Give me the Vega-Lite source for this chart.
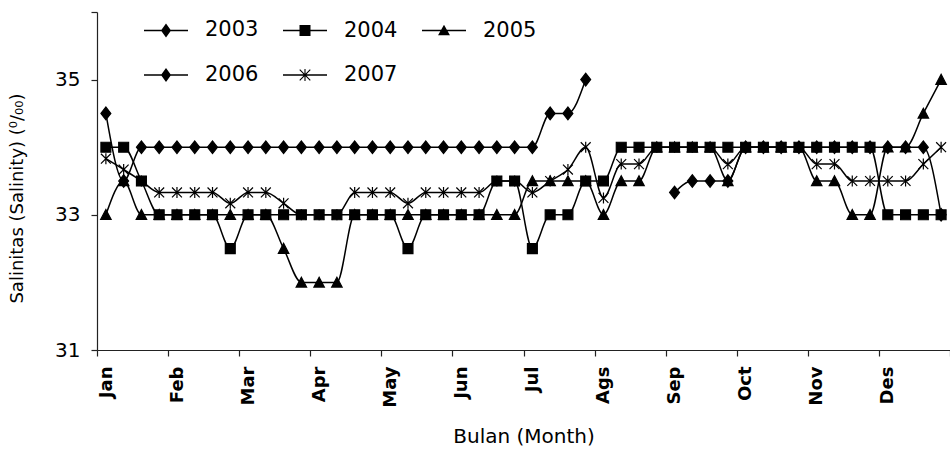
{
  "$schema": "https://vega.github.io/schema/vega-lite/v6.json",
  "width": 853,
  "height": 338,
  "autosize": {"type": "none"},
  "padding": {"left": 97, "top": 12, "right": 0, "bottom": 99},
  "background": "white",
  "config": {
    "view": {"stroke": null},
    "font": "DejaVu Sans",
    "axis": {"grid": false, "domainColor": "#222", "tickColor": "#222", "labelColor": "black", "titleColor": "black", "domainWidth": 1.2, "tickWidth": 1.2}
  },
  "datasets": {
    "sal": [
      {"w": 0, "year": "2003", "v": 34.5}, {"w": 1, "year": "2003", "v": 33.5}, {"w": 2, "year": "2003", "v": 34}, {"w": 3, "year": "2003", "v": 34}, {"w": 4, "year": "2003", "v": 34}, {"w": 5, "year": "2003", "v": 34}, {"w": 6, "year": "2003", "v": 34}, {"w": 7, "year": "2003", "v": 34}, {"w": 8, "year": "2003", "v": 34}, {"w": 9, "year": "2003", "v": 34}, {"w": 10, "year": "2003", "v": 34}, {"w": 11, "year": "2003", "v": 34}, {"w": 12, "year": "2003", "v": 34}, {"w": 13, "year": "2003", "v": 34}, {"w": 14, "year": "2003", "v": 34}, {"w": 15, "year": "2003", "v": 34}, {"w": 16, "year": "2003", "v": 34}, {"w": 17, "year": "2003", "v": 34}, {"w": 18, "year": "2003", "v": 34}, {"w": 19, "year": "2003", "v": 34}, {"w": 20, "year": "2003", "v": 34}, {"w": 21, "year": "2003", "v": 34}, {"w": 22, "year": "2003", "v": 34}, {"w": 23, "year": "2003", "v": 34}, {"w": 24, "year": "2003", "v": 34}, {"w": 25, "year": "2003", "v": 34.5}, {"w": 26, "year": "2003", "v": 34.5}, {"w": 27, "year": "2003", "v": 35},

      {"w": 0, "year": "2004", "v": 34}, {"w": 1, "year": "2004", "v": 34}, {"w": 2, "year": "2004", "v": 33.5}, {"w": 3, "year": "2004", "v": 33}, {"w": 4, "year": "2004", "v": 33}, {"w": 5, "year": "2004", "v": 33}, {"w": 6, "year": "2004", "v": 33}, {"w": 7, "year": "2004", "v": 32.5}, {"w": 8, "year": "2004", "v": 33}, {"w": 9, "year": "2004", "v": 33}, {"w": 10, "year": "2004", "v": 33}, {"w": 11, "year": "2004", "v": 33}, {"w": 12, "year": "2004", "v": 33}, {"w": 13, "year": "2004", "v": 33}, {"w": 14, "year": "2004", "v": 33}, {"w": 15, "year": "2004", "v": 33}, {"w": 16, "year": "2004", "v": 33}, {"w": 17, "year": "2004", "v": 32.5}, {"w": 18, "year": "2004", "v": 33}, {"w": 19, "year": "2004", "v": 33}, {"w": 20, "year": "2004", "v": 33}, {"w": 21, "year": "2004", "v": 33}, {"w": 22, "year": "2004", "v": 33.5}, {"w": 23, "year": "2004", "v": 33.5}, {"w": 24, "year": "2004", "v": 32.5}, {"w": 25, "year": "2004", "v": 33}, {"w": 26, "year": "2004", "v": 33}, {"w": 27, "year": "2004", "v": 33.5}, {"w": 28, "year": "2004", "v": 33.5}, {"w": 29, "year": "2004", "v": 34}, {"w": 30, "year": "2004", "v": 34}, {"w": 31, "year": "2004", "v": 34}, {"w": 32, "year": "2004", "v": 34}, {"w": 33, "year": "2004", "v": 34}, {"w": 34, "year": "2004", "v": 34}, {"w": 35, "year": "2004", "v": 34}, {"w": 36, "year": "2004", "v": 34}, {"w": 37, "year": "2004", "v": 34}, {"w": 38, "year": "2004", "v": 34}, {"w": 39, "year": "2004", "v": 34}, {"w": 40, "year": "2004", "v": 34}, {"w": 41, "year": "2004", "v": 34}, {"w": 42, "year": "2004", "v": 34}, {"w": 43, "year": "2004", "v": 34}, {"w": 44, "year": "2004", "v": 33}, {"w": 45, "year": "2004", "v": 33}, {"w": 46, "year": "2004", "v": 33}, {"w": 47, "year": "2004", "v": 33},

      {"w": 0, "year": "2005", "v": 33}, {"w": 1, "year": "2005", "v": 33.5}, {"w": 2, "year": "2005", "v": 33}, {"w": 3, "year": "2005", "v": 33}, {"w": 4, "year": "2005", "v": 33}, {"w": 5, "year": "2005", "v": 33}, {"w": 6, "year": "2005", "v": 33}, {"w": 7, "year": "2005", "v": 33}, {"w": 8, "year": "2005", "v": 33}, {"w": 9, "year": "2005", "v": 33}, {"w": 10, "year": "2005", "v": 32.5}, {"w": 11, "year": "2005", "v": 32}, {"w": 12, "year": "2005", "v": 32}, {"w": 13, "year": "2005", "v": 32}, {"w": 14, "year": "2005", "v": 33}, {"w": 15, "year": "2005", "v": 33}, {"w": 16, "year": "2005", "v": 33}, {"w": 17, "year": "2005", "v": 33}, {"w": 18, "year": "2005", "v": 33}, {"w": 19, "year": "2005", "v": 33}, {"w": 20, "year": "2005", "v": 33}, {"w": 21, "year": "2005", "v": 33}, {"w": 22, "year": "2005", "v": 33}, {"w": 23, "year": "2005", "v": 33}, {"w": 24, "year": "2005", "v": 33.5}, {"w": 25, "year": "2005", "v": 33.5}, {"w": 26, "year": "2005", "v": 33.5}, {"w": 27, "year": "2005", "v": 33.5}, {"w": 28, "year": "2005", "v": 33}, {"w": 29, "year": "2005", "v": 33.5}, {"w": 30, "year": "2005", "v": 33.5}, {"w": 31, "year": "2005", "v": 34}, {"w": 32, "year": "2005", "v": 34}, {"w": 33, "year": "2005", "v": 34}, {"w": 34, "year": "2005", "v": 34}, {"w": 35, "year": "2005", "v": 33.5}, {"w": 36, "year": "2005", "v": 34}, {"w": 37, "year": "2005", "v": 34}, {"w": 38, "year": "2005", "v": 34}, {"w": 39, "year": "2005", "v": 34}, {"w": 40, "year": "2005", "v": 33.5}, {"w": 41, "year": "2005", "v": 33.5}, {"w": 42, "year": "2005", "v": 33}, {"w": 43, "year": "2005", "v": 33}, {"w": 44, "year": "2005", "v": 34}, {"w": 45, "year": "2005", "v": 34}, {"w": 46, "year": "2005", "v": 34.5}, {"w": 47, "year": "2005", "v": 35},

      {"w": 32, "year": "2006", "v": 33.33}, {"w": 33, "year": "2006", "v": 33.5}, {"w": 34, "year": "2006", "v": 33.5}, {"w": 35, "year": "2006", "v": 33.5}, {"w": 36, "year": "2006", "v": 34}, {"w": 37, "year": "2006", "v": 34}, {"w": 38, "year": "2006", "v": 34}, {"w": 39, "year": "2006", "v": 34}, {"w": 40, "year": "2006", "v": 34}, {"w": 41, "year": "2006", "v": 34}, {"w": 42, "year": "2006", "v": 34}, {"w": 43, "year": "2006", "v": 34}, {"w": 44, "year": "2006", "v": 34}, {"w": 45, "year": "2006", "v": 34}, {"w": 46, "year": "2006", "v": 34}, {"w": 47, "year": "2006", "v": 33},

      {"w": 0, "year": "2007", "v": 33.83}, {"w": 1, "year": "2007", "v": 33.67}, {"w": 2, "year": "2007", "v": 33.5}, {"w": 3, "year": "2007", "v": 33.33}, {"w": 4, "year": "2007", "v": 33.33}, {"w": 5, "year": "2007", "v": 33.33}, {"w": 6, "year": "2007", "v": 33.33}, {"w": 7, "year": "2007", "v": 33.17}, {"w": 8, "year": "2007", "v": 33.33}, {"w": 9, "year": "2007", "v": 33.33}, {"w": 10, "year": "2007", "v": 33.17}, {"w": 11, "year": "2007", "v": 33}, {"w": 12, "year": "2007", "v": 33}, {"w": 13, "year": "2007", "v": 33}, {"w": 14, "year": "2007", "v": 33.33}, {"w": 15, "year": "2007", "v": 33.33}, {"w": 16, "year": "2007", "v": 33.33}, {"w": 17, "year": "2007", "v": 33.17}, {"w": 18, "year": "2007", "v": 33.33}, {"w": 19, "year": "2007", "v": 33.33}, {"w": 20, "year": "2007", "v": 33.33}, {"w": 21, "year": "2007", "v": 33.33}, {"w": 22, "year": "2007", "v": 33.5}, {"w": 23, "year": "2007", "v": 33.5}, {"w": 24, "year": "2007", "v": 33.33}, {"w": 25, "year": "2007", "v": 33.5}, {"w": 26, "year": "2007", "v": 33.67}, {"w": 27, "year": "2007", "v": 34}, {"w": 28, "year": "2007", "v": 33.25}, {"w": 29, "year": "2007", "v": 33.75}, {"w": 30, "year": "2007", "v": 33.75}, {"w": 31, "year": "2007", "v": 34}, {"w": 32, "year": "2007", "v": 34}, {"w": 33, "year": "2007", "v": 34}, {"w": 34, "year": "2007", "v": 34}, {"w": 35, "year": "2007", "v": 33.75}, {"w": 36, "year": "2007", "v": 34}, {"w": 37, "year": "2007", "v": 34}, {"w": 38, "year": "2007", "v": 34}, {"w": 39, "year": "2007", "v": 34}, {"w": 40, "year": "2007", "v": 33.75}, {"w": 41, "year": "2007", "v": 33.75}, {"w": 42, "year": "2007", "v": 33.5}, {"w": 43, "year": "2007", "v": 33.5}, {"w": 44, "year": "2007", "v": 33.5}, {"w": 45, "year": "2007", "v": 33.5}, {"w": 46, "year": "2007", "v": 33.75}, {"w": 47, "year": "2007", "v": 34}
    ]
  },
  "data": {"name": "sal"},
  "resolve": {"scale": {"shape": "independent"}, "legend": {"shape": "independent"}},
  "layer": [
    {
      "mark": {"type": "line", "interpolate": "monotone", "strokeWidth": 1.5, "color": "black"},
      "encoding": {
        "x": {
          "field": "w", "type": "quantitative",
          "scale": {"domain": [-0.5, 47.5], "nice": false, "zero": false},
          "axis": {
            "values": [-0.5, 0.5, 1.5, 2.5, 3.5, 4.5, 5.5, 6.5, 7.5, 8.5, 9.5, 10.5, 11.5, 12.5, 13.5, 14.5, 15.5, 16.5, 17.5, 18.5, 19.5, 20.5, 21.5, 22.5, 23.5, 24.5, 25.5, 26.5, 27.5, 28.5, 29.5, 30.5, 31.5, 32.5, 33.5, 34.5, 35.5, 36.5, 37.5, 38.5, 39.5, 40.5, 41.5, 42.5, 43.5, 44.5, 45.5, 46.5, 47.5],
            "labelExpr": "((datum.value + 0.5) % 4 == 0 && datum.value < 47) ? split('Jan,Feb,Mar,Apr,May,Jun,Jul,Ags,Sep,Oct,Nov,Des', ',')[(datum.value + 0.5) / 4] : ''",
            "labelAngle": 270,
            "labelOffset": 9,
            "labelOverlap": false,
            "labelBound": false,
            "labelFlush": false,
            "labelFontSize": 18,
            "labelFontWeight": "bold",
            "labelPadding": 10,
            "tickSize": 6,
            "title": "Bulan (Month)",
            "titleFontSize": 20,
            "titleFontWeight": "normal",
            "titlePadding": 19
          }
        },
        "y": {
          "field": "v", "type": "quantitative",
          "scale": {"domain": [31, 36], "nice": false, "zero": false},
          "axis": {
            "values": [31, 33, 35, 36],
            "format": "d",
            "labelExpr": "datum.value == 36 ? '' : datum.label",
            "labelFontSize": 20,
            "labelPadding": 11,
            "tickSize": 6,
            "title": "Salinitas (Salinity) (⁰/₀₀)",
            "titleFontSize": 18,
            "titleFontWeight": "normal",
            "titlePadding": 28,
            "titleY": 186
          }
        },
        "detail": {"field": "year"}
      }
    },
    {
      "mark": {"type": "point", "filled": true, "opacity": 1, "color": "black", "stroke": "black", "strokeWidth": 1.2},
      "encoding": {
        "x": {"field": "w", "type": "quantitative"},
        "y": {"field": "v", "type": "quantitative"},
        "size": {"value": 121},
        "shape": {
          "field": "year", "type": "nominal",
          "scale": {
            "domain": ["2003", "2004", "2005", "2006", "2007"],
            "range": ["M-0.9,0L0,-1.15L0.9,0L0,1.15Z", "M-0.9,-0.9L0.9,-0.9L0.9,0.9L-0.9,0.9Z", "M0,-0.95L0.95,0.85L-0.95,0.85Z", "M-0.9,0L0,-1.15L0.9,0L0,1.15Z", "M0,-1L0,1M-0.9,-0.9L0.9,0.9M-0.9,0.9L0.9,-0.9"]
          },
          "legend": null
        }
      }
    },
    {
      "transform": [{"filter": "false"}],
      "mark": {"type": "point", "filled": true, "opacity": 1, "color": "black"},
      "encoding": {
        "x": {"field": "w", "type": "quantitative"},
        "y": {"field": "v", "type": "quantitative"},
        "shape": {
          "field": "year", "type": "nominal",
          "scale": {
            "domain": ["2003", "2004", "2005", "2006", "2007"],
            "range": [
              "M-1,-0.03L1,-0.03L1,0.03L-1,0.03ZM-0.23,0L0,-0.32L0.23,0L0,0.32Z",
              "M-1,-0.03L1,-0.03L1,0.03L-1,0.03ZM-0.25,-0.25L0.25,-0.25L0.25,0.25L-0.25,0.25Z",
              "M-1,-0.03L1,-0.03L1,0.03L-1,0.03ZM0,-0.26L0.27,0.22L-0.27,0.22Z",
              "M-1,-0.03L1,-0.03L1,0.03L-1,0.03ZM-0.23,0L0,-0.32L0.23,0L0,0.32Z",
              "M-1,-0.03L1,-0.03L1,0.03L-1,0.03ZM-0.025,-0.27L0.025,-0.27L0.025,0.27L-0.025,0.27ZM-0.222,-0.258L0.258,0.222L0.222,0.258L-0.258,-0.222ZM-0.222,0.258L-0.258,0.222L0.222,-0.258L0.258,-0.222Z"
            ]
          },
          "legend": {
            "title": null,
            "orient": "none",
            "legendX": 46,
            "legendY": -5,
            "direction": "horizontal",
            "columns": 3,
            "padding": 0,
            "columnPadding": 21,
            "rowPadding": 11,
            "symbolSize": 1936,
            "symbolFillColor": "black",
            "symbolOpacity": 1,
            "labelFontSize": 21,
            "labelColor": "black",
            "labelOffset": 16
          }
        }
      }
    }
  ]
}
